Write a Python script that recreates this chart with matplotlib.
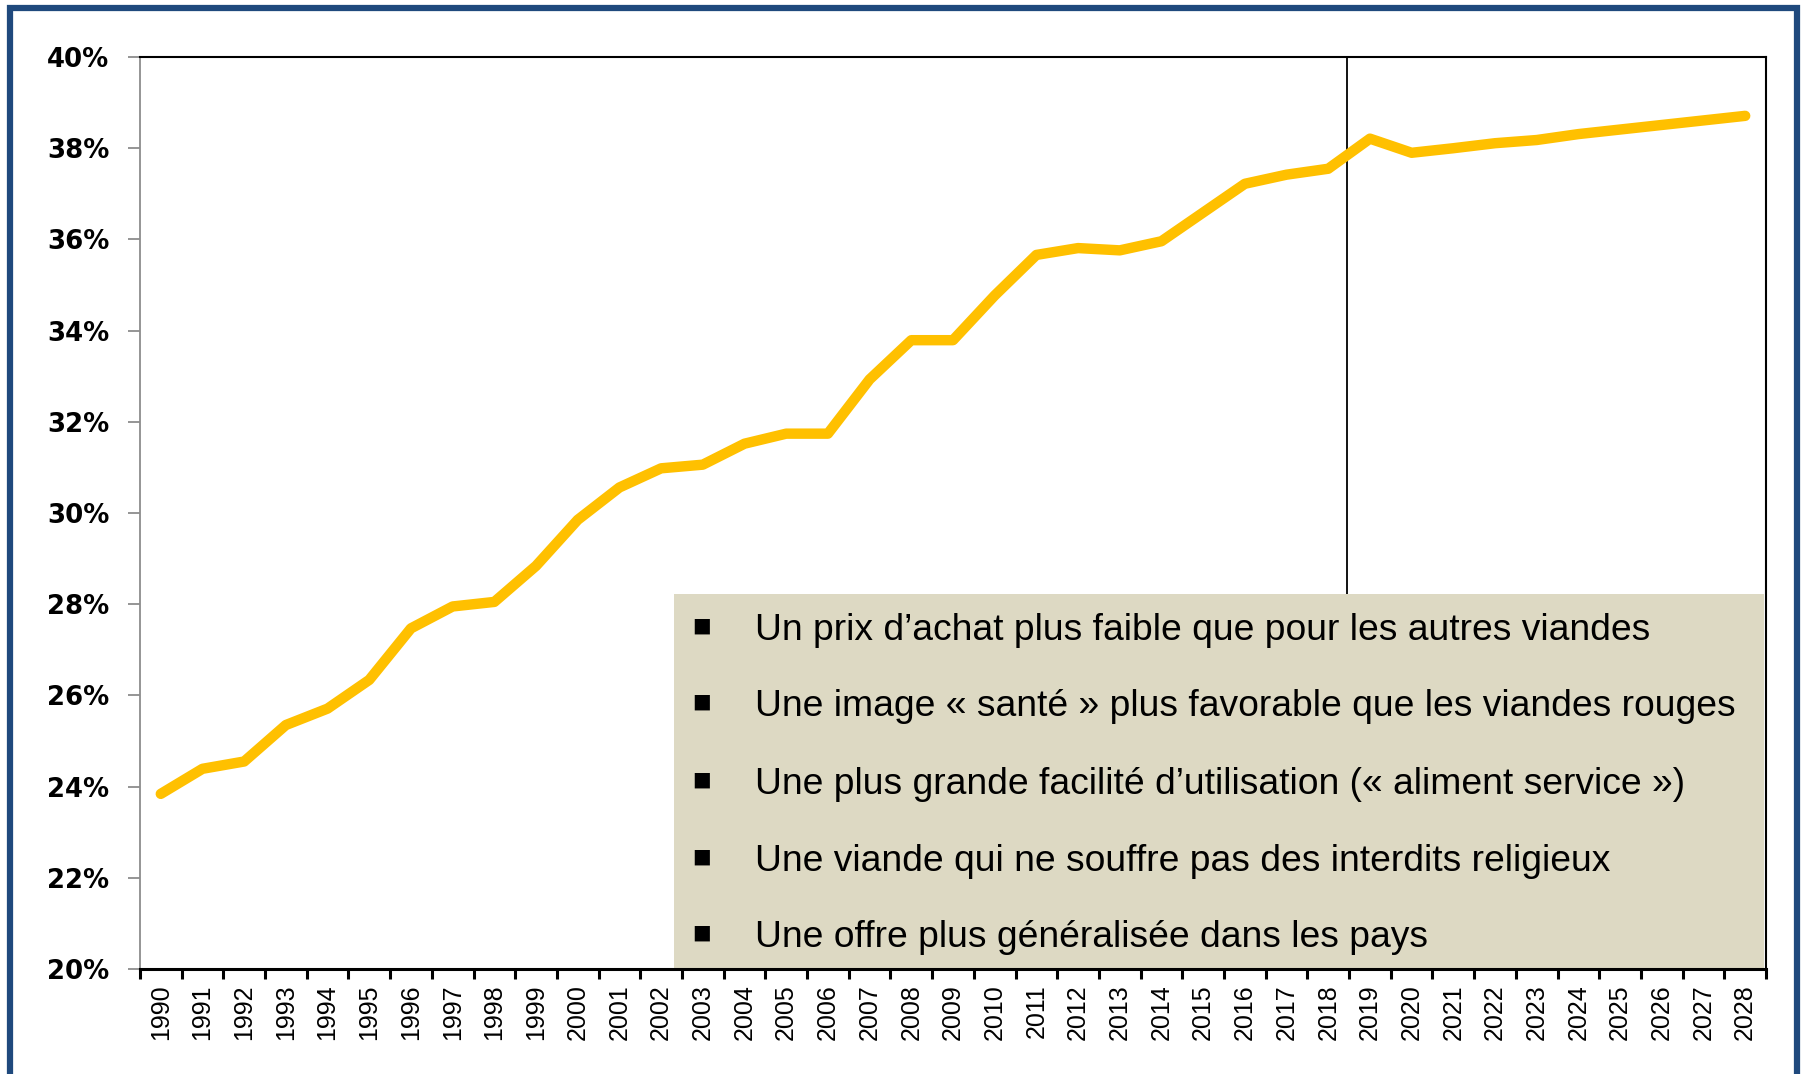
import matplotlib
matplotlib.use('Agg')
import matplotlib.pyplot as plt
from matplotlib.patches import Rectangle
from matplotlib.ticker import FixedLocator, NullFormatter

# Donnees (part de la volaille, en %)
years = list(range(1990, 2029))
share = [23.84, 24.39, 24.55, 25.35, 25.71, 26.34, 27.47, 27.95, 28.05, 28.84,
         29.85, 30.56, 30.98, 31.06, 31.52, 31.74, 31.74, 32.93, 33.79, 33.79,
         34.77, 35.66, 35.81, 35.76, 35.96, 36.59, 37.22, 37.42, 37.55, 38.21,
         37.90, 38.00, 38.11, 38.18, 38.31, 38.41, 38.51, 38.61, 38.71]
y_ticks = [20, 22, 24, 26, 28, 30, 32, 34, 36, 38, 40]
split_pos = 28.45   # separation historique / projection
bullets = [
    "Un prix d\u2019achat plus faible que pour les autres viandes",
    "Une image \u00ab sant\u00e9 \u00bb plus favorable que les viandes rouges",
    "Une plus grande facilit\u00e9 d\u2019utilisation (\u00ab aliment service \u00bb)",
    "Une viande qui ne souffre pas des interdits religieux",
    "Une offre plus g\u00e9n\u00e9ralis\u00e9e dans les pays",
]

fig = plt.figure(figsize=(18.08, 10.74), dpi=100)
ax = fig.add_axes([0.0774, 0.0978, 0.8994, 0.8491])

# cadre bleu autour de la figure
fig.patches.append(Rectangle((0.0055, -0.05), 0.9885, 1.043, transform=fig.transFigure,
                             fill=False, edgecolor='#1F497D', linewidth=4.5))

x = list(range(len(years)))
ax.plot(x, share, color='#FFC000', linewidth=7.5, solid_capstyle='round',
        solid_joinstyle='round', zorder=3)

ax.axvline(split_pos, color='black', linewidth=1.3, zorder=2)

ax.set_xlim(-0.5, len(years) - 0.5)
ax.set_ylim(20, 40)

# axe Y
ax.set_yticks(y_ticks)
ax.set_yticklabels(['%d%%' % v for v in y_ticks], fontsize=18.7,
                   fontweight='bold', family='DejaVu Sans')
ax.tick_params(axis='y', direction='out', length=9, width=1.3, color='#8c8c8c', pad=13)

# axe X : etiquettes au centre, traits entre les categories
ax.set_xticks(x)
ax.set_xticklabels([str(y) for y in years], rotation=90, fontsize=18,
                   family='Liberation Sans')
ax.tick_params(axis='x', which='major', length=0, pad=11)
ax.xaxis.set_minor_locator(FixedLocator([i - 0.5 for i in range(len(years) + 1)]))
ax.xaxis.set_minor_formatter(NullFormatter())
ax.tick_params(axis='x', which='minor', direction='out', length=7, width=2.2, color='black')

ax.spines['left'].set_color('#8c8c8c')
ax.spines['left'].set_linewidth(1.3)
ax.spines['bottom'].set_linewidth(2.2)
ax.spines['top'].set_linewidth(1.5)
ax.spines['right'].set_linewidth(1.5)
for s in ax.spines.values():
    s.set_zorder(6)

# encadre texte
ax.add_patch(Rectangle((0.3284, 0.0), 0.6704, 0.411, transform=ax.transAxes,
                       facecolor='#DDD9C3', edgecolor='none', zorder=4))
line_y = [0.371, 0.2877, 0.202, 0.1177, 0.0344]
for yy, txt in zip(line_y, bullets):
    ax.text(0.3456, yy + 0.005, '\u25aa', transform=ax.transAxes, fontsize=22, ha='center',
            va='center', family=['DejaVu Sans'], zorder=5)
    ax.text(0.378, yy, txt, transform=ax.transAxes, fontsize=26.8, ha='left',
            va='center', family='Liberation Sans', zorder=5)

fig.savefig('out.png', dpi=100)
